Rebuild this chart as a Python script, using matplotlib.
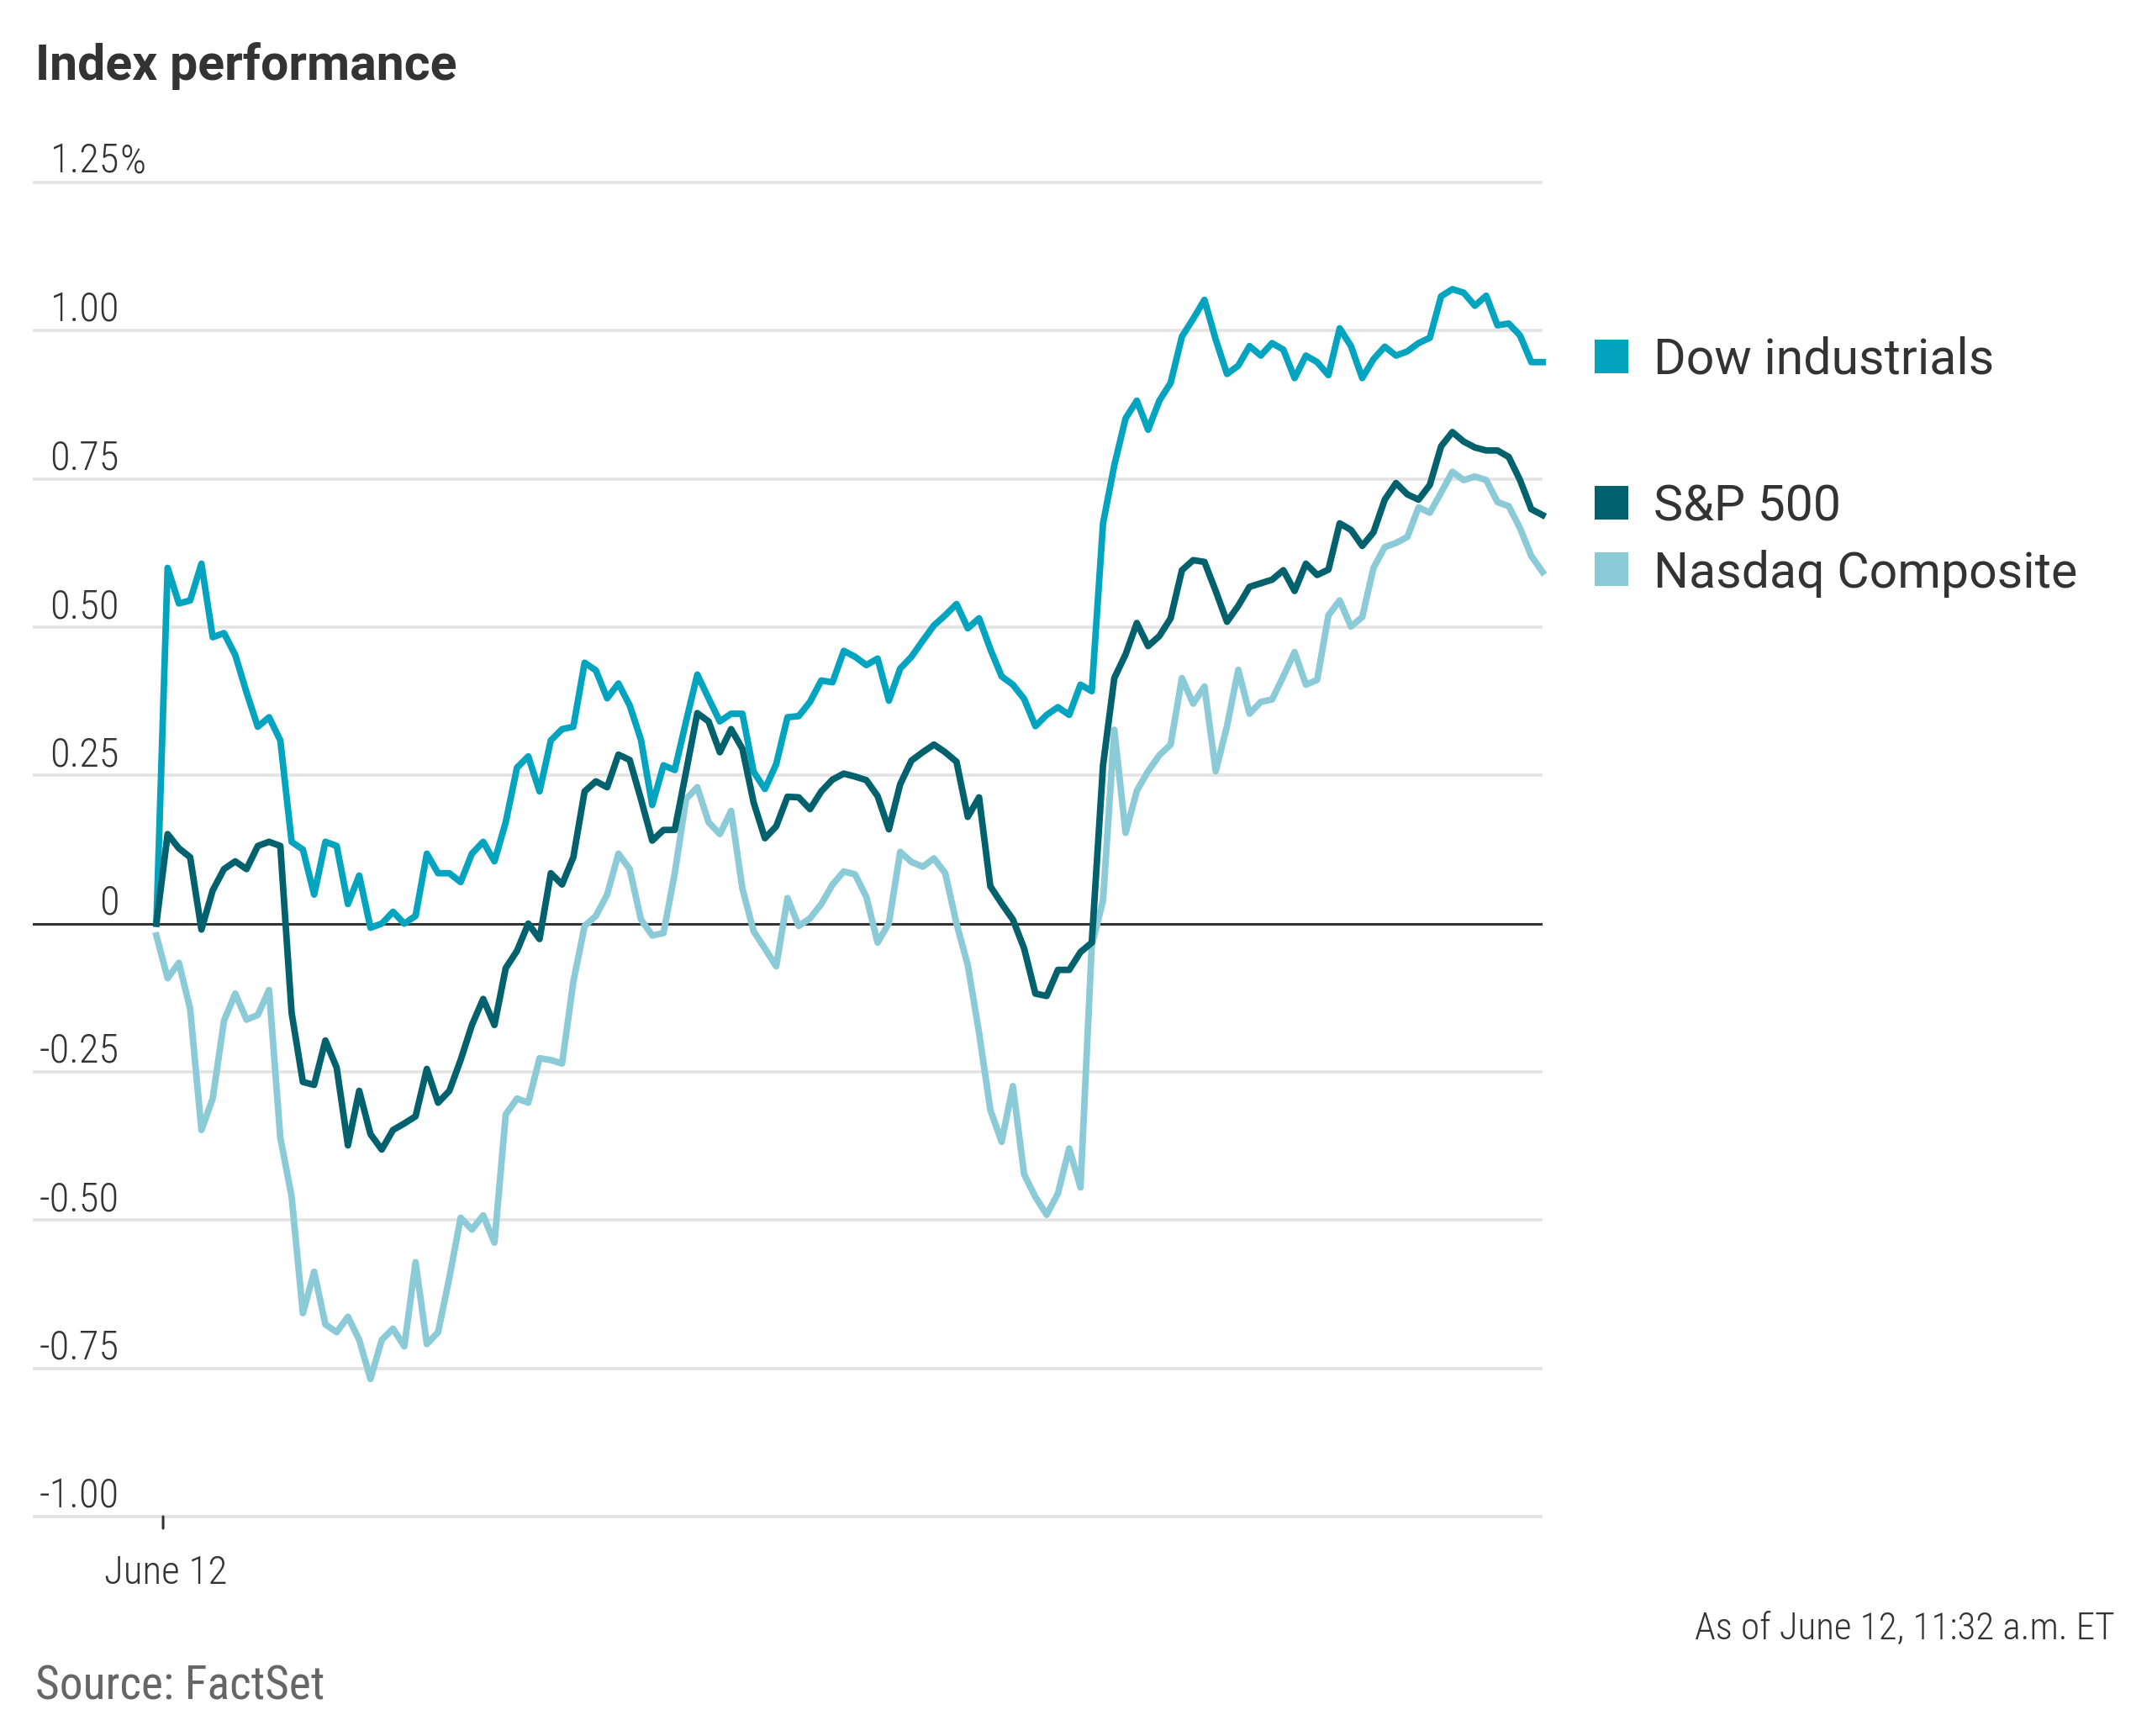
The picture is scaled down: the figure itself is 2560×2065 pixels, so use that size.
import matplotlib
matplotlib.use("Agg")
import matplotlib.pyplot as plt
from matplotlib import font_manager
from matplotlib.patches import Rectangle
import matplotlib.transforms as mtransforms
import numpy as np

# ---------------- data (percent change, one point per minute from the open) ----------------
dow = [0.0, 0.60, 0.54, 0.545, 0.607, 0.483, 0.49, 0.453, 0.39, 0.332,
       0.348, 0.309, 0.138, 0.125, 0.049, 0.138, 0.131, 0.033, 0.081, -0.007,
       0.0, 0.02, 0.0, 0.013, 0.118, 0.085, 0.085, 0.07, 0.118, 0.138,
       0.105, 0.171, 0.263, 0.282, 0.223, 0.309, 0.328, 0.332, 0.44, 0.427,
       0.38, 0.405, 0.368, 0.31, 0.20, 0.267, 0.259, 0.341, 0.42, 0.38,
       0.341, 0.354, 0.354, 0.256, 0.227, 0.269, 0.348, 0.35, 0.374, 0.41,
       0.407, 0.46, 0.45, 0.436, 0.447, 0.376, 0.43, 0.45, 0.477, 0.503,
       0.52, 0.539, 0.498, 0.515, 0.463, 0.417, 0.403, 0.379, 0.333, 0.352,
       0.365, 0.352, 0.403, 0.392, 0.675, 0.773, 0.852, 0.882, 0.833, 0.882,
       0.912, 0.99, 1.02, 1.052, 0.985, 0.927, 0.941, 0.974, 0.958, 0.979,
       0.968, 0.92, 0.958, 0.947, 0.925, 1.004, 0.974, 0.92, 0.952, 0.973,
       0.958, 0.965, 0.979, 0.988, 1.058, 1.07, 1.064, 1.042, 1.059, 1.009,
       1.012, 0.992, 0.947, 0.947]

sp500 = [0.0, 0.151, 0.127, 0.112, -0.01, 0.056, 0.092, 0.105, 0.092, 0.131,
         0.138, 0.131, -0.15, -0.267, -0.272, -0.197, -0.243, -0.374, -0.282, -0.355,
         -0.381, -0.348, -0.337, -0.325, -0.245, -0.302, -0.282, -0.23, -0.171, -0.127,
         -0.171, -0.075, -0.046, 0.0, -0.026, 0.085, 0.066, 0.112, 0.223, 0.24,
         0.23, 0.285, 0.276, 0.21, 0.14, 0.158, 0.158, 0.256, 0.355, 0.341,
         0.289, 0.328, 0.295, 0.204, 0.144, 0.164, 0.214, 0.213, 0.193, 0.223,
         0.243, 0.253, 0.248, 0.242, 0.215, 0.159, 0.235, 0.275, 0.289, 0.302,
         0.289, 0.273, 0.18, 0.213, 0.063, 0.034, 0.007, -0.042, -0.118, -0.122,
         -0.078, -0.078, -0.048, -0.032, 0.267, 0.414, 0.454, 0.507, 0.468, 0.485,
         0.515, 0.596, 0.613, 0.61, 0.561, 0.509, 0.536, 0.568, 0.574, 0.58,
         0.596, 0.561, 0.607, 0.588, 0.597, 0.675, 0.664, 0.637, 0.66, 0.715,
         0.743, 0.724, 0.715, 0.74, 0.805, 0.829, 0.813, 0.803, 0.798, 0.798,
         0.787, 0.748, 0.699, 0.689]

nasdaq = [-0.02, -0.092, -0.066, -0.144, -0.348, -0.295, -0.164, -0.118, -0.162, -0.154,
          -0.112, -0.361, -0.46, -0.657, -0.587, -0.676, -0.689, -0.663, -0.702, -0.768,
          -0.702, -0.683, -0.713, -0.571, -0.709, -0.689, -0.597, -0.496, -0.516, -0.492,
          -0.538, -0.322, -0.295, -0.302, -0.227, -0.23, -0.236, -0.098, -0.004, 0.013,
          0.049, 0.118, 0.092, 0.007, -0.02, -0.016, 0.085, 0.21, 0.23, 0.171,
          0.151, 0.19, 0.059, -0.013, -0.042, -0.072, 0.043, -0.004, 0.009, 0.033,
          0.066, 0.088, 0.083, 0.045, -0.032, 0.001, 0.121, 0.104, 0.096, 0.11,
          0.085, 0.0, -0.07, -0.184, -0.314, -0.368, -0.274, -0.423, -0.461, -0.491,
          -0.455, -0.379, -0.445, -0.037, 0.039, 0.327, 0.153, 0.224, 0.257, 0.284,
          0.302, 0.414, 0.371, 0.4, 0.257, 0.333, 0.428, 0.354, 0.374, 0.378,
          0.417, 0.458, 0.403, 0.411, 0.52, 0.545, 0.501, 0.517, 0.60, 0.635,
          0.642, 0.652, 0.702, 0.693, 0.727, 0.762, 0.748, 0.754, 0.748, 0.711,
          0.704, 0.667, 0.62, 0.593]

minute = np.arange(len(dow))

series_names = ["Dow industrials", "S&P 500", "Nasdaq Composite"]
y_ticks = [1.25, 1.00, 0.75, 0.50, 0.25, 0.0, -0.25, -0.50, -0.75, -1.00]
y_tick_labels = ["1.25", "1.00", "0.75", "0.50", "0.25", "0", "-0.25", "-0.50", "-0.75", "-1.00"]
x_tick_label = "June 12"

# ---------------- style ----------------
C_DOW = "#02a4bf"
C_SP = "#01626e"
C_NAS = "#8bcad7"
TXT = "#333333"

available = {f.name for f in font_manager.fontManager.ttflist}


def pick(*names):
    for n in names:
        if n in available:
            return n
    return "DejaVu Sans"


COND = pick("Roboto Condensed", "Liberation Sans Narrow", "Roboto", "Open Sans")
REG = pick("Roboto", "Lato", "Open Sans", "Noto Sans")

W, H = 2560, 2065
fig = plt.figure(figsize=(W / 100, H / 100), dpi=100)
fig.patch.set_facecolor("white")

# axes geometry (pixels)
left_px, right_px = 39, 1835
y_top_grid, y_bot_grid = 217, 1804
pad = 0.02
ppu = (y_bot_grid - y_top_grid) / 2.25
top_px = y_top_grid - pad * ppu
bot_px = y_bot_grid + pad * ppu
ax = fig.add_axes([left_px / W, 1 - bot_px / H, (right_px - left_px) / W, (bot_px - top_px) / H])
ax.set_ylim(-1.0 - pad, 1.25 + pad)
first_px = 186
dx = (right_px - first_px) / (len(dow) - 1)
ax.set_xlim(-(first_px - left_px) / dx, len(dow) - 1)
ax.axis("off")

for v in y_ticks:
    if v == 0:
        continue
    ax.axhline(v, color="#e3e3e3", lw=2.6, zorder=0)
ax.axhline(0, color=TXT, lw=2.2, zorder=1)

LW = 5.6
ax.plot(minute, nasdaq, color=C_NAS, lw=LW, zorder=3, clip_on=False)
ax.plot(minute, dow, color=C_DOW, lw=LW, zorder=4, clip_on=False)
ax.plot(minute, sp500, color=C_SP, lw=LW, zorder=5, clip_on=False)

# y labels (above their gridlines, right aligned)
lab_x = (142 - left_px) / (right_px - left_px)
trans = mtransforms.offset_copy(ax.get_yaxis_transform(), fig=fig, x=0, y=11, units="dots")
for v, s in zip(y_ticks, y_tick_labels):
    t = ax.text(lab_x, v, s, transform=trans, ha="right", va="baseline",
                fontsize=35, family=COND, fontweight="light", color=TXT)
    if v == 1.25:
        ax.annotate("%", xy=(1, 0), xycoords=t, ha="left", va="bottom",
                    fontsize=35, family=COND, fontweight="light", color=TXT)

# x tick
tick_x = 0.6
ax.annotate("", xy=(tick_x, -1.0), xytext=(0, -14), textcoords="offset pixels",
            arrowprops=dict(arrowstyle="-", color=TXT, lw=2.2, shrinkA=0, shrinkB=0))
fig.text(197 / W, 1 - 1884 / H, x_tick_label, ha="center", va="baseline",
         fontsize=34, family=COND, fontweight="light", color=TXT)

# title
fig.text(42 / W, 1 - 95 / H, "Index performance", ha="left", va="baseline",
         fontsize=42.5, family=REG, fontweight="bold", color=TXT)

# legend
legend_rows = [(series_names[0], C_DOW, 424, 444),
               (series_names[1], C_SP, 598, 619),
               (series_names[2], C_NAS, 677, 699)]
for name, col, cy, base in legend_rows:
    fig.add_artist(Rectangle((1897 / W, 1 - (cy + 20) / H), 40 / W, 40 / H,
                             transform=fig.transFigure, facecolor=col, edgecolor="none"))
    fig.text(1967 / W, 1 - base / H, name, ha="left", va="baseline",
             fontsize=42.5, family=REG, color=TXT)

# notes
fig.text(2516 / W, 1 - 1950 / H, "As of June 12, 11:32 a.m. ET", ha="right", va="baseline",
         fontsize=32.5, family=COND, fontweight="light", color=TXT)
fig.text(42 / W, 1 - 2021 / H, "Source: FactSet", ha="left", va="baseline",
         fontsize=40, family=COND, color="#666666")

fig.savefig("out.png", dpi=100, facecolor="white")
